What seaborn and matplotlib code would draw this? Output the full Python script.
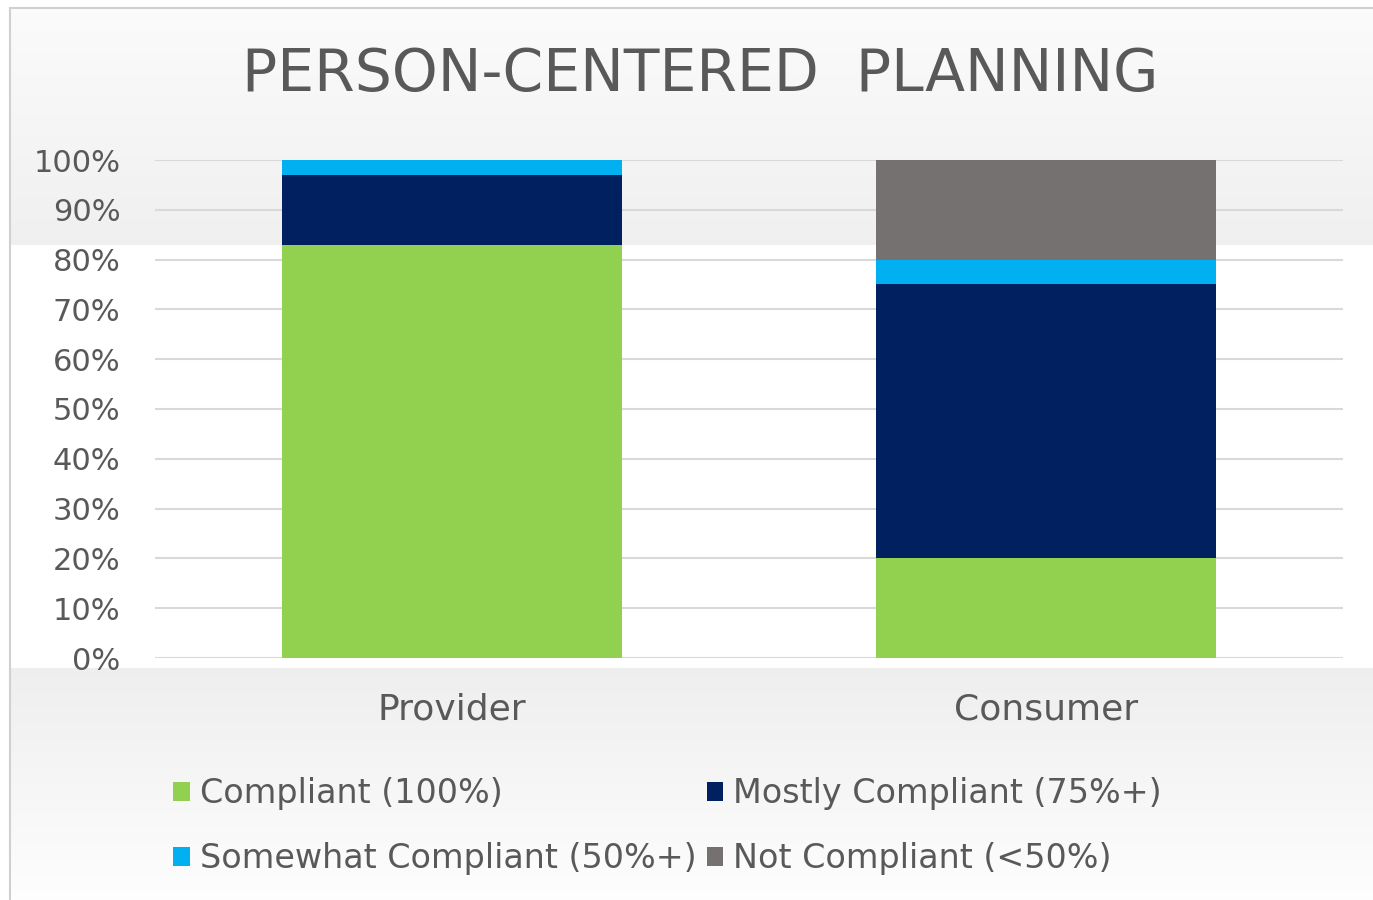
import numpy as np
import pandas as pd
import matplotlib
matplotlib.use("Agg")
import matplotlib.pyplot as plt
import seaborn as sns
from matplotlib.patches import Patch

# ---- data ----
categories = ["Provider", "Consumer"]
compliant = [83, 20]
mostly = [14, 55]
somewhat = [3, 5]
not_compliant = [0, 20]
series_names = ["Compliant (100%)", "Mostly Compliant (75%+)",
                "Somewhat Compliant (50%+)", "Not Compliant (<50%)"]
colors = ["#92d050", "#002060", "#00b0f0", "#767171"]
yticks = [0, 10, 20, 30, 40, 50, 60, 70, 80, 90, 100]
title = "PERSON-CENTERED  PLANNING"

sns.set_theme(style="white")
plt.rcParams['font.family'] = ['DejaVu Sans']

W, H = 1373, 900
fig = plt.figure(figsize=(W / 100, H / 100), dpi=100)

# ---- background with gradients ----
bg = fig.add_axes([0, 0, 1, 1], zorder=0)
img = np.ones((H, W, 3))
ys = np.arange(H)
col = np.ones(H)
top = (ys >= 8) & (ys < 245)
col[top] = np.interp(ys[top], [8, 245], [0.985, 0.94])
bot = ys >= 668
col[bot] = np.interp(ys[bot], [668, 900], [0.935, 0.995])
img[:, :, :] = col[:, None, None]
img[:, :10, :] = 1.0
img[:8, :, :] = 1.0
bg.imshow(img, extent=(0, W, H, 0), aspect='auto', interpolation='bilinear')
bg.plot([10, 10], [8, H], color="#d0d0d0", lw=1.5)
bg.plot([10, W], [8, 8], color="#d0d0d0", lw=1.5)
bg.set_xlim(0, W)
bg.set_ylim(H, 0)
bg.axis("off")

# ---- main axes ----
ax = fig.add_axes([155 / W, (H - 658) / H, 1188 / W, 498 / H], zorder=1)
ax.patch.set_alpha(0)

df = pd.DataFrame({"cat": categories, "c1": compliant, "c2": mostly,
                   "c3": somewhat, "c4": not_compliant})
df["s1"] = df["c1"]
df["s2"] = df["s1"] + df["c2"]
df["s3"] = df["s2"] + df["c3"]
df["s4"] = df["s3"] + df["c4"]

for key, color in zip(["s4", "s3", "s2", "s1"], colors[::-1]):
    sns.barplot(data=df, x="cat", y=key, color=color, width=0.573,
                saturation=1, ax=ax, zorder=3, linewidth=0)

ax.set_xlim(-0.5, 1.5)
ax.set_ylim(0, 100)
ax.set_yticks(yticks)
ax.set_yticklabels([f"{v}%" for v in yticks])
ax.set_xlabel("")
ax.set_ylabel("")
ax.yaxis.grid(True, color="#d9d9d9", lw=1.5, zorder=0)
ax.set_axisbelow(True)
for s in ax.spines.values():
    s.set_visible(False)
ax.tick_params(axis="y", length=0, pad=25, labelsize=22, labelcolor="#595959")
ax.tick_params(axis="x", length=0, pad=25, labelsize=26, labelcolor="#595959")

fig.text(700 / W, 1 - 75 / H, title, ha="center", va="center",
         fontsize=42, color="#595959")

# ---- legend ----
order = [0, 2, 1, 3]
handles = [Patch(facecolor=colors[i], edgecolor="none", label=series_names[i]) for i in order]
fig.legend(handles=handles, ncol=2, loc="upper left",
           bbox_to_anchor=(160 / W, 1 - 764 / H), frameon=False,
           fontsize=24, handlelength=0.5, handleheight=0.5,
           handletextpad=0.3, columnspacing=0.3, labelspacing=0.95,
           labelcolor="#595959", borderaxespad=0)

fig.savefig("out.png", dpi=100)
